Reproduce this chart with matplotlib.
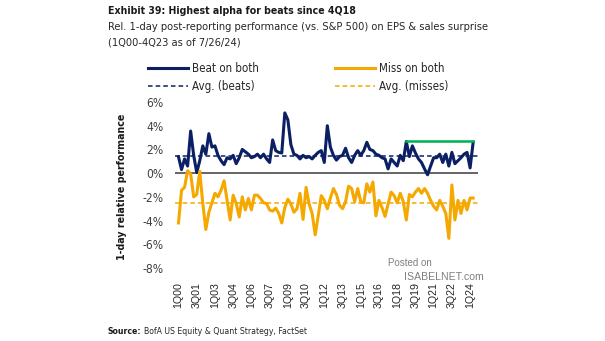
import numpy as np
import matplotlib
matplotlib.use("Agg")
import matplotlib.pyplot as plt
from matplotlib.lines import Line2D

plt.rcParams['font.family'] = ['DejaVu Sans']
plt.rcParams['font.stretch'] = 'condensed'

# quarterly sample 1Q00 .. 2Q24
quarters = [f"{q}Q{y % 100:02d}" for y in range(2000, 2025) for q in range(1, 5)][:98]

beats = [1.38, 0.3, 1.2, 0.6, 3.55, 1.5, 0.05, 1.05, 2.3, 1.6,
         3.33, 2.2, 2.3, 1.5, 1.05, 0.72, 1.3, 1.2, 1.5, 0.8,
         1.3, 2.0, 1.8, 1.6, 1.3, 1.4, 1.6, 1.3, 1.6, 1.2,
         0.9, 2.8, 1.9, 1.75, 1.7, 5.08, 4.5, 2.4, 1.6, 1.5,
         1.2, 1.5, 1.3, 1.4, 1.2, 1.5, 1.75, 1.9, 0.9, 4.0,
         2.2, 1.5, 1.1, 1.4, 1.5, 2.1, 1.3, 0.9, 1.5, 1.9,
         1.5, 1.9, 2.6, 2.0, 1.9, 1.6, 1.5, 1.3, 1.2, 0.36,
         1.2, 0.9, 0.6, 1.5, 1.05, 2.67, 1.4, 2.3, 1.7, 1.2,
         0.9, 0.36, -0.14, 0.6, 1.3, 1.3, 1.6, 0.9, 1.6, 0.6,
         1.75, 0.8, 1.05, 1.3, 1.6, 1.75, 0.44, 2.6]

misses = [-4.2, -1.45, -1.2, 0.2, -0.06, -2.0, -1.8, 0.15, -2.56, -4.75,
          -3.3, -2.5, -1.7, -2.0, -1.45, -0.65, -2.28, -3.95, -1.86, -2.56,
          -3.7, -2.0, -3.1, -2.14, -3.1, -1.86, -1.86, -2.14, -2.5, -2.56,
          -3.11, -3.2, -2.95, -3.4, -4.2, -2.9, -2.2, -2.6, -3.3, -3.0,
          -1.7, -3.9, -1.2, -2.6, -3.4, -5.2, -3.6, -1.9, -2.3, -3.0,
          -2.1, -1.3, -1.8, -2.7, -3.0, -2.4, -1.1, -1.3, -2.4, -1.3,
          -2.4, -2.5, -0.9, -1.6, -0.75, -3.6, -2.3, -2.9, -3.65, -2.6,
          -1.6, -1.9, -2.5, -1.7, -2.4, -3.95, -1.8, -2.0, -1.6, -1.3,
          -1.7, -1.3, -1.7, -2.3, -2.8, -3.1, -2.3, -2.8, -3.4, -5.5,
          -1.0, -3.95, -2.3, -3.4, -2.3, -3.1, -2.1, -2.1]

avg_beats = 1.45
avg_misses = -2.5
since = "4Q18"

navy = '#0b1f65'
amber = '#f5a800'
green = '#00b050'

W, H = 605, 341
fig = plt.figure(figsize=(W / 100, H / 100), dpi=100)
renderer = fig.canvas.get_renderer()


def size_for(s, width_px, **kw):
    # font size at which string s spans width_px pixels
    t = fig.text(0, 0, s, fontsize=10, **kw)
    w = t.get_window_extent(renderer).width
    t.remove()
    return 10 * width_px / w


def fx(px):
    return px / W


def fy(py):
    return 1 - py / H


x = np.arange(len(quarters))

ax = fig.add_axes([fx(175), fy(268), 303 / W, 166 / H])

ax.axhline(0, color='#595959', lw=1.3, zorder=1)
ax.plot(x, beats, color=navy, lw=2.2, zorder=3, solid_joinstyle='round')
ax.plot(x, misses, color=amber, lw=2.2, zorder=3, solid_joinstyle='round')
ax.axhline(avg_beats, color=navy, lw=1.1, ls=(0, (3, 2)), zorder=2)
ax.axhline(avg_misses, color=amber, lw=1.1, ls=(0, (3, 2)), zorder=2)

i0 = quarters.index(since)
ax.plot([x[i0], x[-1]], [beats[i0], beats[i0]], color=green, lw=1.8, zorder=4)

ax.set_xlim(-1.15, 98.6)
ax.set_ylim(-8, 6)
yt = list(range(-8, 7, 2))
ax.set_yticks(yt)
ax.set_yticklabels([f"{v}%" for v in yt])
ax.set_xticks(x[::6])
ax.set_xticklabels(quarters[::6], rotation=90, family='Liberation Sans', fontstretch='normal')
ax.tick_params(axis='x', length=0, pad=10, colors='#262626',
               labelsize=size_for('1Q00', 26, family='Liberation Sans', fontstretch='normal'))
ax.tick_params(axis='y', length=0, pad=8, colors='#404040',
               labelsize=size_for('-8%', 21))
for s in ax.spines.values():
    s.set_visible(False)

ylab = '1-day relative performance'
ax.set_ylabel(ylab, fontsize=size_for(ylab, 147, fontweight='bold'),
              fontweight='bold', color='#1a1a1a')
ax.yaxis.set_label_coords(-0.159, 0.49)

handles = [Line2D([], [], color=navy, lw=2.2),
           Line2D([], [], color=navy, lw=1.1, ls=(0, (3, 2))),
           Line2D([], [], color=amber, lw=2.2),
           Line2D([], [], color=amber, lw=1.1, ls=(0, (3, 2)))]
labels = ['Beat on both', 'Avg. (beats)', 'Miss on both', 'Avg. (misses)']
lfs = size_for(labels[0], 67)
lpx = lfs * 100 / 72
fig.legend(handles, labels, ncol=2, loc='upper left', bbox_to_anchor=(fx(148), fy(62)),
           frameon=False, fontsize=lfs, handlelength=40 / lpx, handletextpad=3.5 / lpx,
           columnspacing=77 / lpx, labelspacing=0.4, borderpad=0, borderaxespad=0,
           labelcolor='#262626')

title = 'Exhibit 39: Highest alpha for beats since 4Q18'
sub1 = 'Rel. 1-day post-reporting performance (vs. S&P 500) on EPS & sales surprise'
sub2 = '(1Q00-4Q23 as of 7/26/24)'
fig.text(fx(108), fy(11.5), title, fontsize=size_for(title, 248, fontweight='bold'),
         fontweight='bold', va='center', color='#1a1a1a')
sfs = size_for(sub1, 378)
fig.text(fx(108), fy(27), sub1, fontsize=sfs, va='center', color='#262626')
fig.text(fx(108), fy(42.5), sub2, fontsize=sfs, va='center', color='#262626')

# source line: bold lead-in followed by plain text
src_rest = 'BofA US Equity & Quant Strategy, FactSet'
cfs = size_for('Source: ' + src_rest, 194)
src = fig.text(fx(108), fy(332), 'Source:', fontsize=cfs, fontweight='bold',
               va='center', color='#1a1a1a')
bb = src.get_window_extent(renderer)
fig.text((bb.x1 + 3) / W, fy(332), src_rest, fontsize=cfs, va='center', color='#262626')

fig.text(fx(388), fy(263), 'Posted on', fontsize=7, va='center',
         family='Liberation Sans', fontstretch='normal', color='#7f7f7f')
fig.text(fx(404), fy(277), 'ISABELNET.com', fontsize=7.6, va='center',
         family='Liberation Sans', fontstretch='normal', color='#7f7f7f')

fig.savefig('out.png', dpi=100)
